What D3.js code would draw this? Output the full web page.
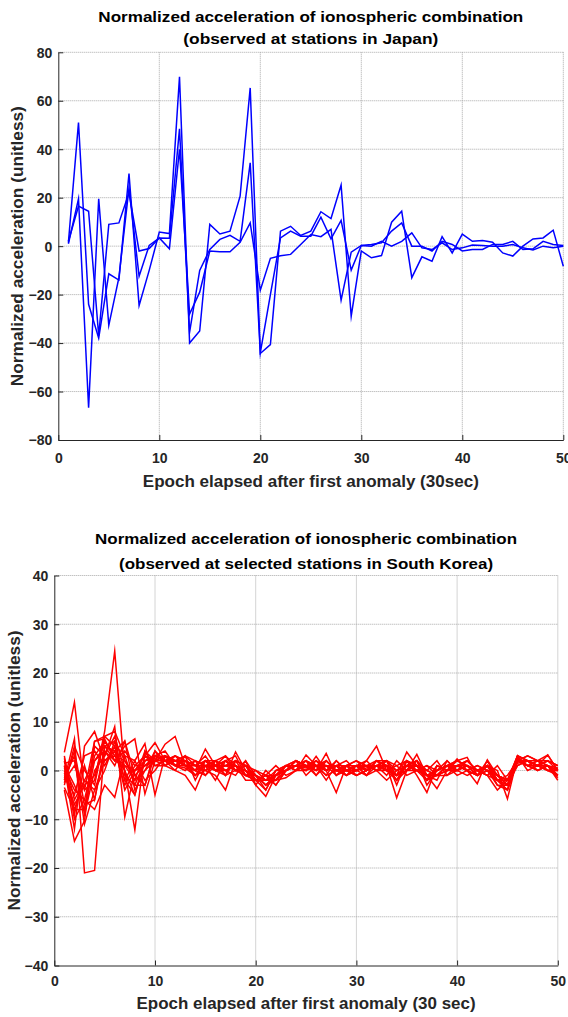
<!DOCTYPE html>
<html>
<head>
<meta charset="utf-8">
<script src="https://cdn.jsdelivr.net/npm/d3@7"></script>
<style>
  html, body { margin: 0; padding: 0; background: #fff; }
  svg { display: block; }
  text { font-family: "Liberation Sans", Arial, sans-serif; font-weight: bold; }
</style>
</head>
<body>
<svg id="chart" width="568" height="1017"></svg>
<script>
// ---------- DATA ----------
const epochs = d3.range(1, 51);

const xTicks = [0, 10, 20, 30, 40, 50];
const yTicksJapan = [-80, -60, -40, -20, 0, 20, 40, 60, 80];
const yTicksKorea = [-40, -30, -20, -10, 0, 10, 20, 30, 40];

const japanTitle = ["Normalized acceleration of ionospheric combination", "(observed at stations in Japan)"];
const koreaTitle = ["Normalized acceleration of ionospheric combination", "(observed at selected stations in South Korea)"];
const yLabel = "Normalized acceleration (unitless)";
const xLabelJapan = "Epoch elapsed after first anomaly (30sec)";
const xLabelKorea = "Epoch elapsed after first anomaly (30 sec)";

// Japan stations (3 series, epochs 1..50)
const japan1 = [1.5, 51, -24, -38, -11.4, -14, 30, -24.5, -10, 5.8, 5.2, 69.9, -40, -35, 9, 5, 6.2, 20.6, 65.3, -44.3, -40.6, 6.2, 8.2, 4.4, 6.2, 14.2, 11.4, 25.2, -28.9, -2, -4.8, -3.9, 9.9, 14.4, -13, -4.4, -6.2, 3.9, -2.8, 5, 2, 2.3, 1.6, -2.8, -4.1, 0, 3, 3.4, 6.6, -8.3];
const japan2 = [1, 19.5, -66.7, 19.5, -32.7, -13, 24, -12.4, 0.3, 3.4, 3.3, 48.4, -35.5, -10, -1.4, 2.8, 4.5, 2, 34.4, -44, -20, 3.4, 6.2, 4.1, 4.1, 12, 3, 10.6, -9.9, 0.3, 0.7, 1.4, 6.2, 9.6, 0, 0, -2, 2, 0.7, -2, -1.4, -1.4, 0.7, 0.7, 2, -1.4, -1.1, 2, 0.7, 0.3];
const japan3 = [2, 16.5, 14.4, -37, 9, 9.6, 22, -2, -1, 3.4, -1.1, 40, -28, -19, -2, -2.3, -2.3, 1.6, 9.6, -18.2, -5, -4, -3.4, 0.7, 4.8, 3.9, 6.9, -22.3, -2.5, 0.3, 0, 2, 0, 2, 5.5, -0.7, -1.4, 1.4, -1.4, -0.7, 0.5, 0.3, 0, 0, 0.7, -0.7, -1.6, 0, -0.7, 0];

// South Korea stations (18 series, epochs 1..50)
const korea1 = [3.7, 14, -4, -2, 8, 24.5, -1, -3, 2, 2.5, 3, 1, 0.5, -1, 2, 0, 1, 2, -1, -2, -1, -3, 0, 1, 0.5, 2, 0, 1, -1, 0, 0.5, 1, 2, 0, 1, 0, 1, -1, 0, 1, 2, 0, -1, 1, -2, 3, 2, 1, 0, -1];
const korea2 = [-2, 6.5, -21, -20.5, 5, 6, -2, -5, 3, 5.7, 2, 3, 1, 0, -1, 1, 3, 0, 1, -2, -2, 0, 1, 0, 2, -1, 1, 0, 0, 1, -1, 2, 1, -5.6, 0, 1, 0, 2, -1, 0, 1, -1, 0, -2, -3, 1, 2, 1, 0, 0.5];
const korea3 = [-4, -14.5, -10.3, 5, 3, 9, -9.5, 0, 1, 3, 2, 0, -1, -4, 1, 2, -1, 3.8, 0, -3, -5.3, -1, 0, 2, 1, 0, 3.5, -1, 1, 0, 2, 5, 0, -1, 3.8, 1, -2, 0, 1, 2, 2.7, -1, 1, 0, -5.8, 2.7, 1, 0, 1, -1];
const korea4 = [1, -12, 5, 8, 2, 3, 0, -12.2, 4, 1, 2, 1, 2, 0, 4.4, 1, 0, -1, 2, -1, -2, -2, -1.5, 0, 3.2, 1, -1, 2, 0, -1, 0, 1, -1, 2, 0, 3.3, -1, -3.7, 0, 1, 0, -2.7, 2.2, -1, -2, 1.5, 2, 1, 3.2, 0];
const korea5 = [0, -8, -8, 6, 6.5, 2, 5, 6.5, -4.8, 2, 5.4, 7, 1, 1, 0, -1, -4, 2, 1, 0, -1, -3, 0, 1, 0, 2.9, 0, 1, 2, 0, -1, 0, 2, 1, -1, 0, 1, 0, 2, 0, 1, 0, -1, -4, -2, 2, 1, 2, 1, -2];
const korea6 = [2, -10, -6, -8, -3, -5.5, 3, 2, 5.5, -5, 3, 2, 2, 1, 3, 0, 1, 0, -1, -1, -4, 0, 1, 2, -1, 1, 0, -4.5, 1, 2, 0, 1, 0, 1, 2, -1, -4.5, 1, 0, 2.4, 0, 1, 0, -1, -3, 3, 0, 1, 2, 1];
const korea7 = [-3, 5, 0, -3, 7, 8, 3, -3, -3, 4, 1, 0, 3, 2, -1, 2, 3, 1, 0, -2, -1, 1, -1, 0, 1, -1, 2, 0, 1, 2, 1, 0, -2, 0, 1, 2, -3, 0, 1, -1, 0, -1, 2, -2, -4, 2.5, 1, 0, 1, -1.5];
const korea8 = [-1, -5, 3, 4, 1, 5, -2, 2, -2, 0, 3, 1, 0, 2, 1, -2, 2, 3, -1, 0, -2, -1, 1, 0, 0, 1, -2, 1, 0, -1, 0, 2, 1, -2, 0, 1, -1, -2, 2, 0, -1, 0, 1, -3, -4, 2, 3, 2, 0, 0];
const korea9 = [2.5, -6, -2, 2, 4, 1, 6, -4, 0, 2, 2, 1, 3, -2, 2, 1, -1, 0, 2, -3, 0, -2, 0, 1, 2, 1, -1, 0, 1, -1, 0, 1, 2, -3, 2, 0, -2, -1, 1, 1, 0, -1, 1, -1, -2, 3, 2, 1, 2, 1];
const korea10 = [-2.5, 4, -7, -6, 5, 2, 1, 0, 3, 1, 1, 3, 2, 0, 1, 1, 2, 1, 0, -1, -3, -1, 1, 2, 1, 0, 1, 1, -1, 1, 2, 0, 0, -1, 1, 2, 0, -1, -1, 1, 2, 0, -1, -2, -1, 2, 1, 2, 3.2, 0];
const korea11 = [1.5, 2, -9, 0, 3, 7, 0, -5, 2, 3, 2, 2, 1, -1, 0, 2, 1, 2, 1, -2, -1, -2, 0, 2, 1, 1, 0, 2, 0, 0, 1, 2, 0, -2, 2, 1, -2, 1, 0, 2, 1, -1, 0, -2, -3, 2, 2, 1, 1, -1];
const korea12 = [-3.5, -8, -2, -4, 2, 4, -3, 1, 1, 2, 3, 2, 3, 1, 2, 0, 0, 1, -2, -2, -2, -1, 0, 1, 2, 0, 2, 0, 1, 1, -1, 1, 1, -1, 0, 0, -1, 0, 1, 0, 1, -1, 1, -1, -2, 1, 2, 2, 1, 0.5];
const korea13 = [0.5, -4, -6, 3, 6, 3, 1, -2, 4, 2, 1, 2, 2, 1, 0, 1, 2, 0, 0, -1, -2, -1, 1, 1, 2, 1, 0, 1, 1, 0, 1, 0, 1, 0, 2, 1, -1, 0, 1, 1, 0, 1, 0, -1, -2, 2, 1, 1, 2, 0];
const korea14 = [-1.5, 3, -11, -4, 0, 6, 2, -1, -3, 3, 4, 1, 1, 2, 1, 0, -1, 2, 1, -2, -4, 0, 0, 1, 1, 2, 1, -1, 0, 1, 1, 1, 0, -1, 1, 2, -1, -1, 0, 0, 2, 0, 1, -2, -4, 2, 2, 0, 1, -1];
const korea15 = [3, -9, 1, -6, 4, 2, 4, 1, 3, 2, 3, 2, 1, 0, 2, 2, 0, 1, -1, -1, -3, -2, 1, 0, 1, 1, 2, 0, 0, 1, 0, 2, 2, -1, 1, 1, -2, 1, 0, 1, 1, -1, 0, -3, -3, 3, 2, 1, 1, 0];
const korea16 = [-2, 1, -4, 6, 7, 5, -4, 0, 2, 3, 2, 3, 2, -1, 1, 1, 1, 1, 0, -2, -2, -1, 0, 2, 1, 0, 1, 0, -1, 0, 1, 1, 1, -2, 1, 0, -1, -1, 1, 0, 1, 0, 1, -2, -2, 2, 3, 2, 2, 1];
const korea17 = [1, -3, -8, 2, 5, 4, 6, -1, 1, 2, 3, 1, 2, 1, 1, 0, 2, 0, 1, -1, -3, -1, 1, 1, 0, 2, 0, 1, 0, 1, 0, 1, 0, -1, 0, 2, -1, 0, 1, 1, 0, -1, 1, -2, -2, 2, 1, 1, 1, 0];
const korea18 = [-0.5, -7, -3, -1, 6, 3, 2, -2, 0, 4, 2, 2, 1, 0, 1, 1, 0, 1, -1, -2, -1, -1, 0, 1, 1, 1, 1, 0, 0, 1, 1, 0, 1, -1, 1, 1, 0, -1, 1, 2, 1, 0, 1, -1, -3, 2, 2, 1, 0, 0];

const japanSeries = [japan1, japan2, japan3];
const koreaSeries = [korea1, korea2, korea3, korea4, korea5, korea6, korea7, korea8, korea9,
                     korea10, korea11, korea12, korea13, korea14, korea15, korea16, korea17, korea18];

// ---------- DRAW ----------
const svg = d3.select("#chart");
const axisColor = "#262626";

function fitText(sel, width) {
  sel.attr("textLength", width).attr("lengthAdjust", "spacingAndGlyphs");
}

function panel(opts) {
  const { left, right, top, bottom, yDomain, yTicks, series, color, title, titleY, titleW,
          xLabel, xLabelY, xLabelW, yLabelX, yLabelW, tickLabelY } = opts;
  const x = d3.scaleLinear().domain([0, 50]).range([left, right]);
  const y = d3.scaleLinear().domain(yDomain).range([bottom, top]);
  const g = svg.append("g");

  // grid
  const grid = g.append("g");
  grid.selectAll("line.vx").data(xTicks.filter(d => d > 0)).join("line")
    .attr("x1", d => x(d)).attr("x2", d => x(d)).attr("y1", top).attr("y2", bottom)
    .attr("stroke", "#a8a8a8").attr("stroke-width", 1).attr("stroke-dasharray", "1,1");
  grid.selectAll("line.hy").data(yTicks.filter(d => d > yDomain[0])).join("line")
    .attr("x1", left).attr("x2", right).attr("y1", d => y(d)).attr("y2", d => y(d))
    .attr("stroke", "#a8a8a8").attr("stroke-width", 1).attr("stroke-dasharray", "1,1");

  // lines
  const line = d3.line().x((d, i) => x(epochs[i])).y(d => y(d));
  g.append("g").selectAll("path").data(series).join("path")
    .attr("d", line).attr("fill", "none").attr("stroke", color)
    .attr("stroke-width", 1.5).attr("stroke-linejoin", "miter").attr("stroke-miterlimit", 10);

  // axes
  const xAxis = d3.axisBottom(x).tickValues(xTicks).tickSizeInner(-5).tickSizeOuter(0).tickPadding(10);
  const gx = g.append("g").attr("transform", `translate(0,${bottom})`).call(xAxis);
  gx.select(".domain").attr("stroke", axisColor);
  gx.selectAll(".tick line").attr("stroke", axisColor);
  gx.selectAll(".tick text").attr("fill", axisColor).attr("font-size", 14).attr("font-weight", "bold")
    .attr("font-family", "Liberation Sans, Arial, sans-serif").attr("y", tickLabelY - bottom).attr("dy", 0);

  const yAxis = d3.axisLeft(y).tickValues(yTicks).tickSizeInner(-5).tickSizeOuter(0).tickPadding(6);
  const gy = g.append("g").attr("transform", `translate(${left},0)`).call(yAxis);
  gy.select(".domain").attr("stroke", axisColor);
  gy.selectAll(".tick line").attr("stroke", axisColor);
  gy.selectAll(".tick text").attr("fill", axisColor).attr("font-size", 14).attr("font-weight", "bold")
    .attr("font-family", "Liberation Sans, Arial, sans-serif").attr("x", -6).attr("dy", "0.35em");

  // title
  const cx = (left + right) / 2;
  title.forEach((t, i) => {
    g.append("text").attr("x", cx).attr("y", titleY[i]).attr("text-anchor", "middle")
      .attr("font-size", 15.5).attr("fill", "#000").text(t).call(fitText, titleW[i]);
  });

  // x label
  g.append("text").attr("x", cx).attr("y", xLabelY).attr("text-anchor", "middle")
    .attr("font-size", 16).attr("fill", axisColor).text(xLabel).call(fitText, xLabelW);

  // y label
  const cy = (top + bottom) / 2;
  g.append("text").attr("transform", `translate(${yLabelX},${cy}) rotate(-90)`)
    .attr("text-anchor", "middle").attr("font-size", 16).attr("fill", axisColor)
    .text(yLabel).call(fitText, yLabelW);
}

panel({
  left: 58.3, right: 563.3, top: 52.3, bottom: 440,
  yDomain: [-80, 80], yTicks: yTicksJapan, series: japanSeries, color: "#0000ff",
  title: japanTitle, titleY: [22, 44], titleW: [425, 255],
  xLabel: xLabelJapan, xLabelY: 487, xLabelW: 336,
  yLabelX: 23, yLabelW: 280, tickLabelY: 463
});

panel({
  left: 54.3, right: 557.8, top: 575.5, bottom: 965.5,
  yDomain: [-40, 40], yTicks: yTicksKorea, series: koreaSeries, color: "#ff0000",
  title: koreaTitle, titleY: [544, 569], titleW: [422, 374],
  xLabel: xLabelKorea, xLabelY: 1009, xLabelW: 339,
  yLabelX: 20, yLabelW: 280, tickLabelY: 986
});
</script>
</body>
</html>
